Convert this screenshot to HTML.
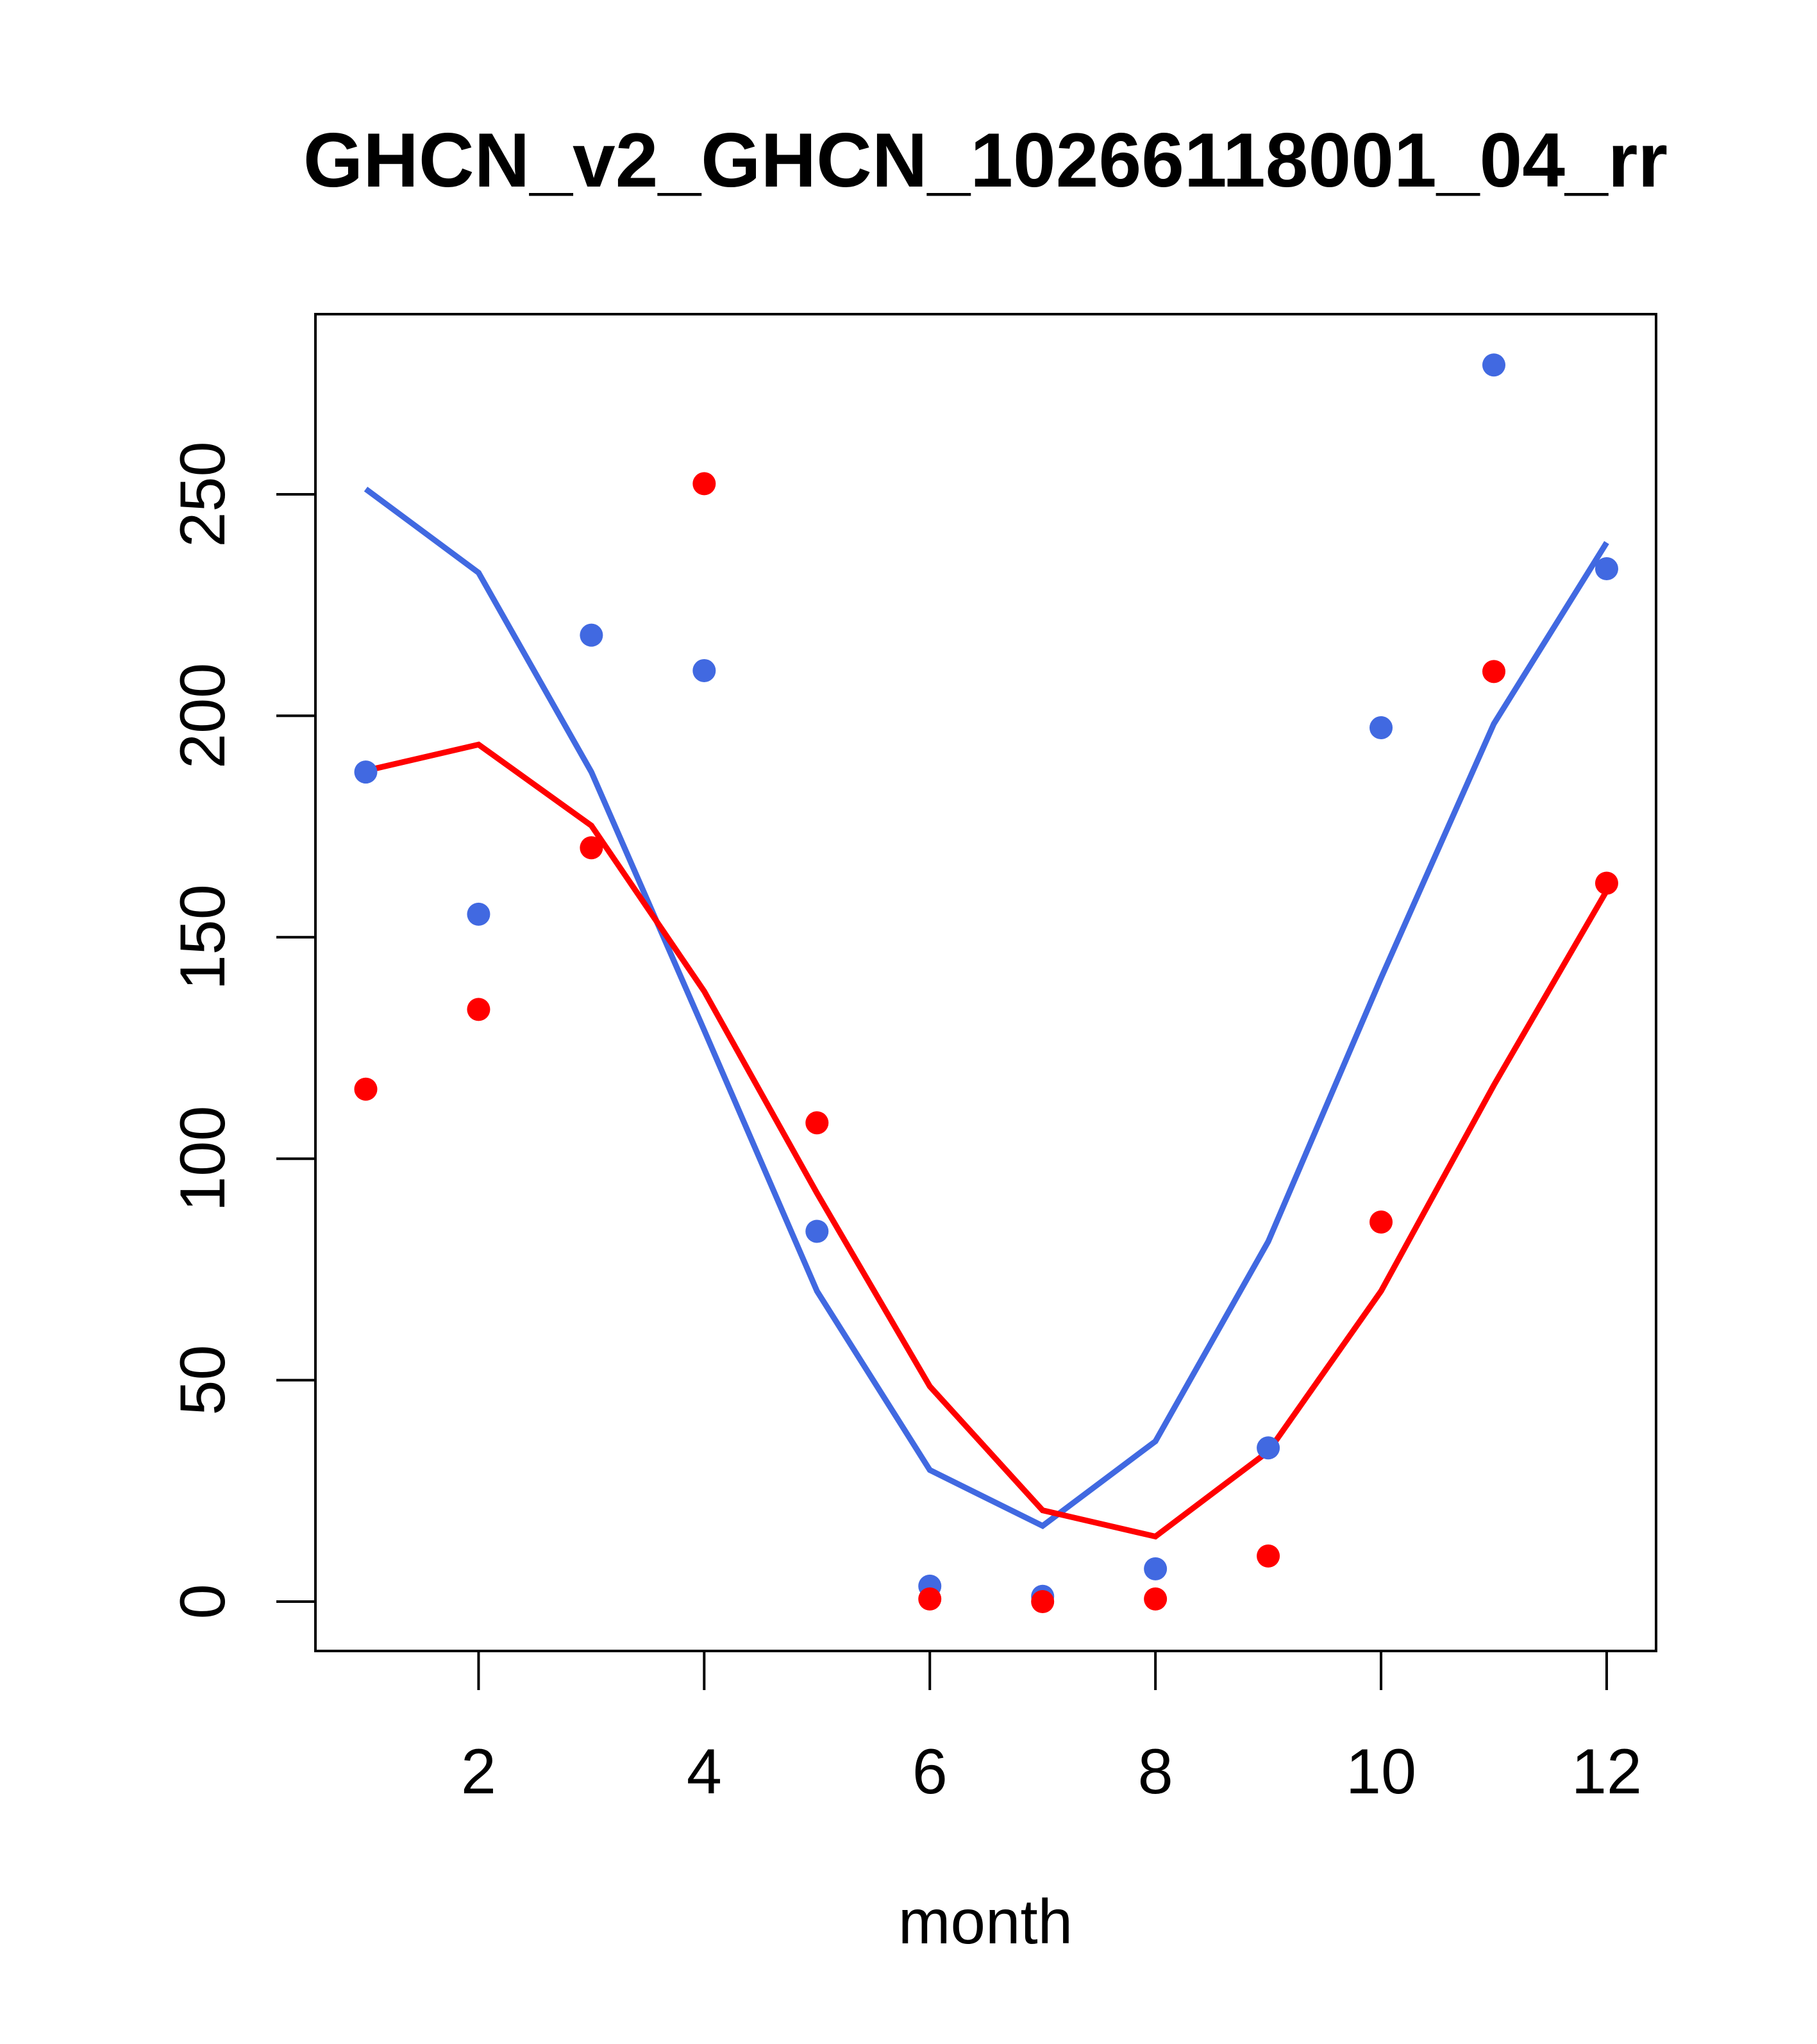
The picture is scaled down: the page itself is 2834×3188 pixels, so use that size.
<!DOCTYPE html>
<html><head><meta charset="utf-8"><style>
html,body{margin:0;padding:0;background:#fff;}
svg{display:block;font-family:"Liberation Sans",Arial,sans-serif;}
</style></head><body>
<svg id="chart" width="2834" height="3188" viewBox="0 0 2834 3188" xmlns="http://www.w3.org/2000/svg">
<rect width="2834" height="3188" fill="#fff"/>
<text x="1537" y="291" font-size="120" font-weight="bold" text-anchor="middle">GHCN_v2_GHCN_10266118001_04_rr</text>
<rect x="492" y="490" width="2091" height="2085" fill="none" stroke="#000" stroke-width="4"/>
<g id="xaxis"></g>
<g id="yaxis"></g>
<text x="1537" y="3031" font-size="98" text-anchor="middle">month</text>
<g id="series"></g>
</svg>
<script>
const months=[1,2,3,4,5,6,7,8,9,10,11,12];
const bluePoints=[187.3,155.2,218.2,210.2,83.6,3.5,1.2,7.4,34.7,197.3,279.2,233.2];
const redPoints=[115.7,133.7,170.2,252.4,108.1,0.6,0,0.6,10.3,85.7,210,162.2];
const blueLine=[251.2,232.3,187.3,129,70.1,29.7,17.1,36.2,81.3,140.8,198.2,239.1];
const redLine=[187.6,193.5,175.2,137.8,92.2,48.6,20.6,14.7,33.9,70.1,116.6,160.5];
const xTicks=[2,4,6,8,10,12];
const yTicks=[0,50,100,150,200,250];
const NS="http://www.w3.org/2000/svg";
function X(m){return 570.5+(m-1)*175.95;}
function Y(v){return 2498-v*6.908;}
function mk(tag,attrs,parent){const e=document.createElementNS(NS,tag);for(const k in attrs)e.setAttribute(k,attrs[k]);parent.appendChild(e);return e;}
const xa=document.getElementById('xaxis'),ya=document.getElementById('yaxis'),sr=document.getElementById('series');
mk('line',{x1:X(2),x2:X(12),y1:2575,y2:2575,stroke:'#000','stroke-width':4},xa);
xTicks.forEach(t=>{
 const l=mk('line',{x1:X(t),x2:X(t),y1:2575,y2:2636,stroke:'#000','stroke-width':4},xa);
 
 
 const tx=mk('text',{x:X(t),y:2797,'font-size':99,'text-anchor':'middle'},xa);tx.textContent=t;
 
 
});
mk('line',{x1:492,x2:492,y1:Y(0),y2:Y(250),stroke:'#000','stroke-width':4},ya);
yTicks.forEach(t=>{
 const l=mk('line',{x1:431,x2:492,y1:Y(t),y2:Y(t),stroke:'#000','stroke-width':4},ya);
 
 
 const tx=mk('text',{x:350,y:Y(t),'font-size':99,'text-anchor':'middle',transform:`rotate(-90 350 ${Y(t)})`},ya);tx.textContent=t;
 
 
});
function line(vals,color,name){
 const p=mk('polyline',{points:vals.map((v,i)=>X(months[i])+','+Y(v)).join(' '),fill:'none',stroke:color,'stroke-width':9},sr);
 
 
}
function pts(vals,color,name){
 vals.forEach((v,i)=>{
  const c=mk('circle',{cx:X(months[i]),cy:Y(v),r:18,fill:color},sr);
  
  
 });
}
line(blueLine,'#4169E1','blue-line');
line(redLine,'#FF0000','red-line');
pts(bluePoints,'#4169E1','blue-point');
pts(redPoints,'#FF0000','red-point');
</script>
</body></html>
